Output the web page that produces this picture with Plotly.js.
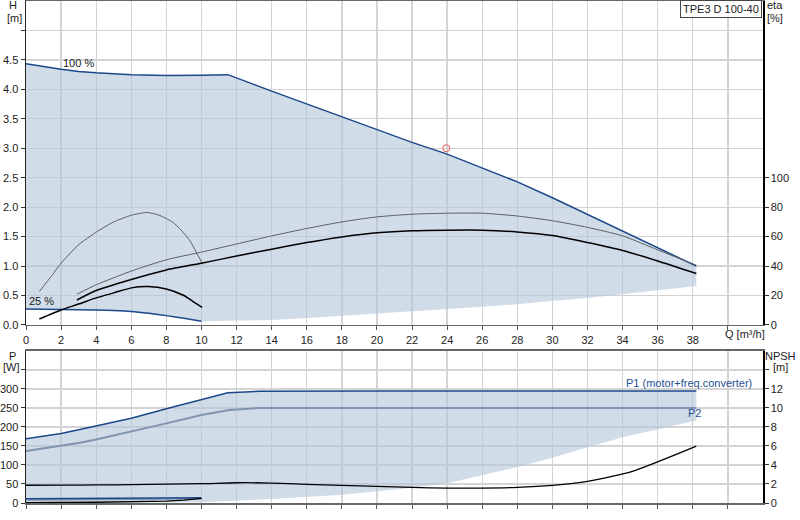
<!DOCTYPE html>
<html>
<head>
<meta charset="utf-8">
<script src="https://cdn.plot.ly/plotly-3.0.1.min.js"></script>
<style>
  html, body { margin: 0; padding: 0; background: #fff; }
  #chart { width: 800px; height: 520px; }
</style>
</head>
<body>
<div id="chart"></div>
<script>
// Q/H curve at 100 % speed
const q100 = [0, 1, 2, 3, 4, 6, 8, 10, 11.5, 14, 16, 18, 20, 22, 24, 26, 28, 30, 32, 34, 36, 38.2];
const h100 = [4.435, 4.385, 4.34, 4.305, 4.28, 4.25, 4.235, 4.24, 4.25, 3.97, 3.75, 3.54, 3.32, 3.1, 2.9, 2.67, 2.43, 2.16, 1.88, 1.6, 1.31, 1.0];

// Q/H curve at 25 % speed
const q25 = [0, 2, 4, 5, 6, 7, 8, 9, 10];
const h25 = [0.273, 0.263, 0.254, 0.245, 0.23, 0.199, 0.159, 0.114, 0.063];

// lower edge of the operating range
const qMin = [10, 12, 14, 16, 18, 20, 22, 24, 26, 28, 30, 32, 34, 36, 38.2];
const hMin = [0.063, 0.072, 0.085, 0.12, 0.16, 0.2, 0.235, 0.27, 0.31, 0.35, 0.41, 0.46, 0.53, 0.59, 0.66];

// efficiency curves [%]
const qEtaPump100 = [2.9, 4, 6, 8, 10, 12, 14, 16, 18, 20, 22, 24, 26, 28, 30, 32, 34, 36, 38.2];
const etaPump100 = [20.9, 27.3, 36.6, 44.3, 49.5, 55, 60.5, 65.5, 70, 73.4, 75.2, 75.9, 75.9, 74, 70.8, 66.3, 60.5, 51, 40.6];
const qEtaTot100 = [2.9, 4, 6, 8, 10, 12, 14, 16, 18, 20, 22, 24, 26, 28, 30, 32, 34, 36, 38.2];
const etaTot100 = [17, 23.4, 30.9, 37.4, 42, 46.8, 51.5, 56, 59.8, 62.6, 64, 64.4, 64.4, 63.2, 60.8, 56, 50.6, 43.5, 35];
const qEtaPump25 = [0.76, 1.5, 2, 3, 4, 5, 6, 6.9, 7.6, 8.4, 9.3, 9.7, 10.04];
const etaPump25 = [22.7, 34, 42, 54.5, 63, 70, 74.5, 76.4, 74.5, 69.5, 58, 49.5, 42];
const qEtaTot25 = [0.76, 2, 3, 4, 5, 6, 6.95, 8, 9, 9.5, 10.04];
const etaTot25 = [4.1, 10.2, 14.2, 18.4, 21.8, 25.2, 26.1, 24.5, 20, 16.1, 12];

// duty point
const qDuty = [23.95];
const hDuty = [3.0];

// power curves [W]
const qP1 = [0, 2, 3, 4, 6, 8, 10, 11.5, 13.3, 16, 20, 24, 28, 32, 36, 38.2];
const p1 = [169, 183, 193, 203, 223, 248, 272, 290, 294, 295, 295, 295, 295, 295, 295, 295];
const qP2 = [0, 2, 3, 4, 6, 8, 10, 11.6, 13.3, 16, 20, 24, 28, 32, 36, 38.2];
const p2 = [137, 150, 158, 167, 187.5, 209.5, 231.5, 245, 250, 250, 250, 250, 250, 250, 250, 250];
const qP25 = [0, 5, 10];
const p1Low = [11, 13, 14];
const p2Low = [8, 10, 11];

// lower edge of the power range
const qPMin = [0, 10, 12, 14, 18, 22, 24, 26, 28, 30, 32, 34, 36, 38.2];
const pMin = [0, 2, 6, 10.5, 22, 40, 52, 72.5, 94.4, 119, 147, 173, 195, 217];

// NPSH [m]
const qNpsh = [0, 2, 4, 6, 8, 10, 12, 14, 16, 18, 20, 22, 24, 26, 28, 30, 32, 34.6, 38.2];
const npsh = [1.87, 1.88, 1.9, 1.93, 1.98, 2.03, 2.13, 2.1, 1.96, 1.85, 1.75, 1.64, 1.57, 1.57, 1.64, 1.85, 2.27, 3.36, 5.98];
const qNpsh25 = [0, 4, 8, 9, 10];
const npsh25 = [0.04, 0.08, 0.2, 0.3, 0.48];

// tick labels
const qTicks = [0, 2, 4, 6, 8, 10, 12, 14, 16, 18, 20, 22, 24, 26, 28, 30, 32, 34, 36, 38, 40];
const qTickText = ["0", "2", "4", "6", "8", "10", "12", "14", "16", "18", "20", "22", "24", "26", "28", "30", "32", "34", "36", "38", ""];
const hTicks = [0, 0.5, 1, 1.5, 2, 2.5, 3, 3.5, 4, 4.5, 5];
const hTickText = ["0.0", "0.5", "1.0", "1.5", "2.0", "2.5", "3.0", "3.5", "4.0", "4.5", ""];
const etaTicks = [0, 20, 40, 60, 80, 100];
const pTicks = [0, 50, 100, 150, 200, 250, 300, 350];
const pTickText = ["0", "50", "100", "150", "200", "250", "300", ""];
const npshTicks = [0, 2, 4, 6, 8, 10, 12, 14];
const npshTickText = ["0", "2", "4", "6", "8", "10", "12", ""];

const BLUE = "rgb(28,72,138)";
const P2_COLOR = "rgb(128,148,174)";
const FILL = "rgba(176,196,216,0.6)";
const GRID = "#d4d4d4";
const FONT = "Liberation Sans, Arial, sans-serif";

const rev = (a) => a.slice().reverse();
const smooth = (color, width) => ({ color: color, width: width, shape: "spline", smoothing: 0.6 });

const data = [
  // operating range, Q/H
  {
    x: q100.concat(rev(qMin), rev(q25)),
    y: h100.concat(rev(hMin), rev(h25)),
    xaxis: "x", yaxis: "y",
    type: "scatter", mode: "lines", fill: "toself",
    fillcolor: FILL, line: { width: 0 }, hoverinfo: "skip",
  },
  // operating range, power
  {
    x: qP1.concat(rev(qPMin)),
    y: p1.concat(rev(pMin)),
    xaxis: "x2", yaxis: "y3",
    type: "scatter", mode: "lines", fill: "toself",
    fillcolor: FILL, line: { width: 0 }, hoverinfo: "skip",
  },
  { x: q100, y: h100, xaxis: "x", yaxis: "y", type: "scatter", mode: "lines", line: { color: BLUE, width: 1.5 } },
  { x: q25, y: h25, xaxis: "x", yaxis: "y", type: "scatter", mode: "lines", line: smooth(BLUE, 1.5) },
  { x: qEtaPump100, y: etaPump100, xaxis: "x", yaxis: "y2", type: "scatter", mode: "lines", line: smooth("rgb(95,95,95)", 1) },
  { x: qEtaPump25, y: etaPump25, xaxis: "x", yaxis: "y2", type: "scatter", mode: "lines", line: smooth("rgb(95,95,95)", 1) },
  { x: qEtaTot100, y: etaTot100, xaxis: "x", yaxis: "y2", type: "scatter", mode: "lines", line: smooth("#000", 1.5) },
  { x: qEtaTot25, y: etaTot25, xaxis: "x", yaxis: "y2", type: "scatter", mode: "lines", line: smooth("#000", 1.5) },
  {
    x: qDuty, y: hDuty, xaxis: "x", yaxis: "y", type: "scatter", mode: "markers",
    marker: { symbol: "circle-open", size: 7, color: "rgb(240,90,90)", line: { width: 1 } },
  },
  { x: qP2, y: p2, xaxis: "x2", yaxis: "y3", type: "scatter", mode: "lines", line: { color: P2_COLOR, width: 2 } },
  { x: qP1, y: p1, xaxis: "x2", yaxis: "y3", type: "scatter", mode: "lines", line: { color: BLUE, width: 1.5 } },
  { x: qP25, y: p2Low, xaxis: "x2", yaxis: "y3", type: "scatter", mode: "lines", line: { color: P2_COLOR, width: 1.5 } },
  { x: qP25, y: p1Low, xaxis: "x2", yaxis: "y3", type: "scatter", mode: "lines", line: { color: BLUE, width: 1.5 } },
  { x: qNpsh, y: npsh, xaxis: "x2", yaxis: "y4", type: "scatter", mode: "lines", line: smooth("#000", 1.3) },
  { x: qNpsh25, y: npsh25, xaxis: "x2", yaxis: "y4", type: "scatter", mode: "lines", line: { color: "#000", width: 1.3 } },
];

const tickFont = { family: FONT, size: 11, color: "#222" };

const xCommon = {
  range: [0, 42],
  tickmode: "array",
  tickvals: qTicks,
  showgrid: true, gridcolor: GRID, gridwidth: 1.3,
  zeroline: false,
  showline: true, linecolor: "#666", linewidth: 1.5, mirror: true,
  ticks: "outside", ticklen: 4, tickcolor: "#555",
  tickfont: tickFont,
  fixedrange: true,
};

const yLeftCommon = {
  showgrid: true, gridcolor: GRID, gridwidth: 1.3,
  zeroline: false,
  showline: true, linecolor: "#222", linewidth: 1.5,
  ticks: "outside", ticklen: 4, tickcolor: "#333",
  tickfont: tickFont,
  tickmode: "array",
};

const yRightCommon = {
  side: "right",
  showgrid: false, zeroline: false,
  showline: true, linecolor: "#000", linewidth: 1.5,
  ticks: "outside", ticklen: 4, tickcolor: "#333",
  tickfont: tickFont,
  tickmode: "array",
};

function label(text, x, y, extra) {
  return Object.assign({
    text: text, x: x, y: y, xref: "paper", yref: "paper",
    xanchor: "center", yanchor: "middle", showarrow: false,
    font: { family: FONT, size: 11, color: "#222" },
  }, extra || {});
}

const layout = {
  width: 800,
  height: 520,
  margin: { l: 26, r: 37, t: 1, b: 17 },
  paper_bgcolor: "#fff",
  plot_bgcolor: "#fff",
  showlegend: false,
  hovermode: false,
  font: { family: FONT, size: 11, color: "#222" },
  xaxis: Object.assign({}, xCommon, { anchor: "y", ticktext: qTickText }),
  xaxis2: Object.assign({}, xCommon, { anchor: "y3", showticklabels: false }),
  yaxis: Object.assign({}, yLeftCommon, {
    domain: [0.3546, 1], range: [0, 5.5], tickvals: hTicks, ticktext: hTickText, anchor: "x",
  }),
  yaxis2: Object.assign({}, yRightCommon, {
    overlaying: "y", anchor: "x", range: [0, 220], tickvals: etaTicks,
  }),
  yaxis3: Object.assign({}, yLeftCommon, {
    domain: [0, 0.3028], range: [0, 400], tickvals: pTicks, ticktext: pTickText, anchor: "x2",
  }),
  yaxis4: Object.assign({}, yRightCommon, {
    overlaying: "y3", anchor: "x2", range: [0, 16], tickvals: npshTicks, ticktext: npshTickText,
  }),
  annotations: [
    label("H", -0.017, 0.992),
    label("[m]", -0.016, 0.967),
    label("eta", 1.0163, 0.992),
    label("[%]", 1.0163, 0.967),
    label("P", -0.018, 0.2938),
    label("[W]", -0.019, 0.2709),
    label("NPSH", 1.0244, 0.2938),
    label("[m]", 1.0244, 0.2709),
    label("TPE3 D 100-40", 0.998, 1.002, {
      xanchor: "right", yanchor: "top",
      bgcolor: "#fff", bordercolor: "#444", borderwidth: 1, borderpad: 2,
    }),
    label("Q [m³/h]", 39.7, 0.3367, { xref: "x", xanchor: "left" }),
    label("100 %", 2.0, 4.44, { xref: "x", yref: "y", xanchor: "left" }),
    label("25 %", 0.05, 0.415, { xref: "x", yref: "y", xanchor: "left" }),
    label("P1 (motor+freq.converter)", 41.5, 316, {
      xref: "x2", yref: "y3", xanchor: "right", font: { family: FONT, size: 11, color: "rgb(30,80,150)" },
    }),
    label("P2", 38.1, 237, {
      xref: "x2", yref: "y3", font: { family: FONT, size: 11, color: "rgb(30,80,150)" },
    }),
  ],
};

Plotly.newPlot("chart", data, layout, { staticPlot: true, displayModeBar: false });
</script>
</body>
</html>
